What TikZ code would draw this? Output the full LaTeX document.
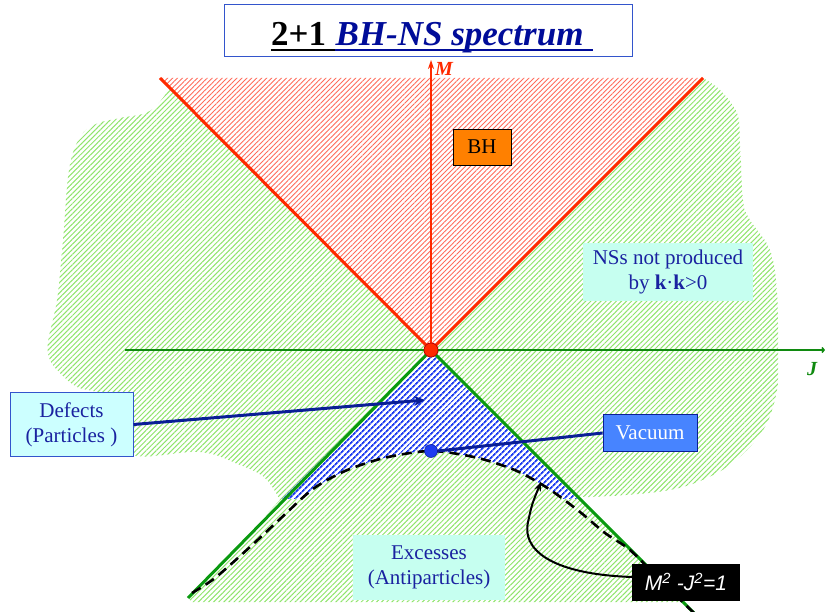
\documentclass[tikz,border=0pt]{standalone}
\usepackage{fontspec}
\setmainfont{Liberation Serif}
\newfontfamily\arialf{Liberation Sans}
\usetikzlibrary{patterns.meta,arrows.meta,calc}
\definecolor{hgreen}{HTML}{8FE46C}
\definecolor{hred}{HTML}{FF6A5A}
\definecolor{hblue}{HTML}{1E3CF0}
\definecolor{conered}{HTML}{FF2A00}
\definecolor{axgreen}{HTML}{108A10}
\definecolor{conegreen}{HTML}{0A9A10}
\definecolor{navy}{HTML}{0A1E96}
\definecolor{txtblue}{HTML}{1A22A0}
\definecolor{ttlblue}{HTML}{000C99}
\definecolor{cyanfill}{HTML}{CCFFFF}
\definecolor{mintfill}{HTML}{C6FFF0}
\definecolor{vacfill}{HTML}{4784FF}
\definecolor{bhorange}{HTML}{FF8000}
\definecolor{boxblue}{HTML}{3355CC}
\tikzset{
  greenhatch/.style={pattern={Lines[angle=45,distance=3.6pt,line width=1pt]},pattern color=hgreen},
  redhatch/.style={pattern={Lines[angle=45,distance=3.5pt,line width=0.9pt]},pattern color=hred},
  bluehatch/.style={pattern={Lines[angle=45,distance=4pt,line width=1.9pt]},pattern color=hblue},
  lbl/.style={font=\fontsize{21}{25}\selectfont,align=center,inner sep=0pt},
  labelbox/.style={lbl,text=txtblue,fill=mintfill},
  axislabel/.style={font=\fontsize{20}{22}\selectfont\bfseries\itshape,inner sep=0pt},
  navyarrow/.style={navy,line width=3pt},
}
\begin{document}
\begin{tikzpicture}[x=1pt,y=-1pt]
\useasboundingbox (0,0) rectangle (825,612);
% green region (NSs)
\path[greenhatch] (431,350) -- (170,88)
  -- plot[smooth,tension=0.6] coordinates {(170,88) (150,111) (120,118) (96,124) (80,137) (69,170) (63,240) (57,300) (48,342) (50,360) (60,373) (77,387) (103,395) (125,420) (133,455) (200,452) (240,465) (265,478) (280,500)}
  -- (188,598) -- (192,602) -- (682,602) -- (575,494)
  -- plot[smooth,tension=0.6] coordinates {(575,494) (593,497) (670,490) (717,473) (747,450) (767,423) (777,390) (778,360) (777,293) (770,250) (750,220) (743,200) (740,143) (737,113) (720,90) (703,78)}
  -- cycle;
% red region (BH)
\path[redhatch] (431,350) -- (160,78) -- (703,78) -- cycle;
% blue region (defects)
\begin{scope}
  \clip (0,0) rectangle (825,498);
  \path[fill=white] (431,350) -- (188,593)
    -- plot[smooth] coordinates {(192,593) (215,578) (250,547) (280,519) (313,489) (345,471) (380,459) (410,453) (431,451) (452,453) (482,459) (517,471) (549,489) (580,512) (605,533) (630,550) (660,580) (695,614)} -- cycle;
  \path[bluehatch] (431,350) -- (188,593)
    -- plot[smooth] coordinates {(192,593) (215,578) (250,547) (280,519) (313,489) (345,471) (380,459) (410,453) (431,451) (452,453) (482,459) (517,471) (549,489) (580,512) (605,533) (630,550) (660,580) (695,614)} -- cycle;
\end{scope}
% origin
\node[circle,fill=conered,draw=red!70!black,line width=0.6pt,minimum size=14pt,inner sep=0pt] (o) at (431,350) {};
\coordinate (rl) at (160,78);
\coordinate (rr) at (703,78);
\coordinate (gl) at (188,598);
\coordinate (gr) at (697,616);
\coordinate (jl) at (125,350);
\coordinate (jr) at (825,350);
\coordinate (mt) at (431,60);
% axes
\draw[axgreen,line width=1.5pt,-{Straight Barb[length=2pt,width=5pt]}] (jl) -- (jr);
\draw[conered,line width=1.3pt,-{Stealth[length=9pt,width=6pt]}] (o) -- (mt);
\node[axislabel,text=conered] (lM) at (444,69) {M};
\node[axislabel,text=axgreen] (lJ) at (812,369) {J};
% cone lines
\draw[conered,line width=3pt] (o.center) -- (rl);
\draw[conered,line width=3pt] (o.center) -- (rr);
\draw[conegreen,line width=3pt] (o.center) -- (gl);
\draw[conegreen,line width=3pt] (o.center) -- (gr);
% hyperbola
\draw[black,line width=2.6pt,dash pattern=on 10pt off 6pt] plot[smooth] coordinates {(192,593) (215,578) (250,547) (280,519) (313,489) (345,471) (380,459) (410,453) (431,451) (452,453) (482,459) (517,471) (549,489) (580,512) (605,533) (630,550) (660,580) (695,614)};
\node[circle,fill=conered,draw=red!70!black,line width=0.6pt,minimum size=14pt,inner sep=0pt] at (o) {};
% title
\node[draw=boxblue,line width=1pt,fill=white,minimum width=408pt,minimum height=52pt] (tbox) at (428,31) {};
\node[anchor=base west,inner sep=0pt,font=\fontsize{35}{40}\selectfont\bfseries] (t1) at (271,46) {2+1};
\node[anchor=base west,inner sep=0pt,font=\fontsize{35}{40}\selectfont\bfseries\itshape,text=ttlblue] (t2) at ($(t1.base east)+(9,0)$) {BH-NS spectrum};
\draw[black,line width=2.6pt] ($(t1.base west)+(0,4)$) -- ($(t1.base east)+(9,4)$);
\draw[ttlblue,line width=2.6pt] ($(t1.base east)+(9,4)$) -- ($(t2.base east)+(9,4)$);
% boxes
\node[lbl,fill=bhorange,draw=black,line width=0.8pt,minimum width=58pt,minimum height=36pt] (bh) at (482,147) {BH};
\node[labelbox,minimum width=170pt,minimum height=58pt] (nss) at (668,272) {NSs not produced\\by \textbf{k}·\textbf{k}>0};
\node[labelbox,minimum width=152pt,minimum height=65pt] (exc) at (429,567.5) {Excesses\\(Antiparticles)};
\node[lbl,text=txtblue,fill=cyanfill,draw=boxblue,line width=1pt,minimum width=123pt,minimum height=64pt] (def) at (71.5,424.5) {Defects\\(Particles )};
\node[lbl,text=white,fill=vacfill,draw=navy,line width=0.8pt,minimum width=94pt,minimum height=37pt] (vac) at (650,433) {Vacuum};
\node[fill=black,text=white,inner sep=0pt,minimum width=108pt,minimum height=37pt,font=\arialf\itshape\fontsize{21}{24}\selectfont] (hyp) at (686,582) {M\textsuperscript{2} -J\textsuperscript{2}=1};
% connectors
\coordinate (dtip) at (425,400);
\draw[navyarrow,-{Stealth[length=11pt,width=10pt]}] (def.east) -- (dtip);
\node[circle,fill=hblue,draw=navy,line width=0.5pt,minimum size=13pt,inner sep=0pt] (vd) at (431,451) {};
\draw[navyarrow] (vac.west) -- (vd.east);
\coordinate (mtip) at (541,482);
\draw[black,line width=2pt,-{Stealth[length=9pt,width=7pt]}] ([yshift=5pt]hyp.west) .. controls (548,574) and (522,548) .. (528,522) .. controls (532,504) .. (mtip);
\end{tikzpicture}
\end{document}
